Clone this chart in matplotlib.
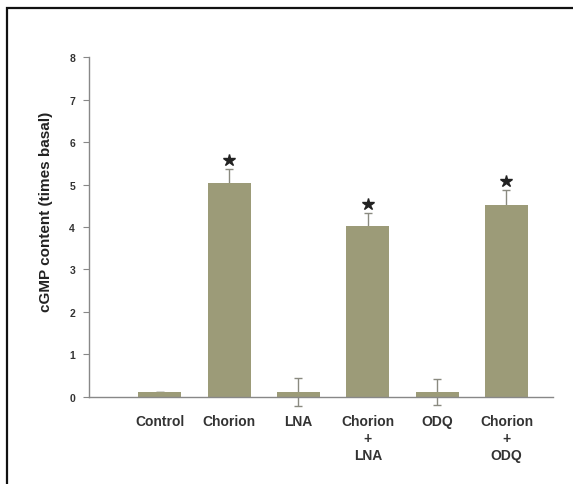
import matplotlib
matplotlib.use('Agg')
import matplotlib.pyplot as plt
import numpy as np
from matplotlib.patches import Rectangle

# data
groups = ['Control', 'Chorion', 'LNA', 'Chorion\n+\nLNA', 'ODQ', 'Chorion\n+\nODQ']
means = [0.12, 5.03, 0.12, 4.03, 0.12, 4.52]
errs = [0.0, 0.33, 0.33, 0.3, 0.3, 0.35]
signif = [False, True, False, True, False, True]
yticks = [0, 1, 2, 3, 4, 5, 6, 7, 8]

plt.rcParams['font.family'] = ['Liberation Sans', 'DejaVu Sans']

fig = plt.figure(figsize=(5.73, 4.85), dpi=100)
ax = fig.add_axes([0.1553, 0.1794, 0.8097, 0.701])

x = np.arange(len(groups))
ax.bar(x, means, width=0.62, color='#9c9b78', edgecolor='none', zorder=2)
ax.errorbar(x, means, yerr=errs, fmt='none', ecolor='#8a8a80',
            elinewidth=1.0, capsize=3, capthick=1.0, zorder=1, clip_on=False)

''' significance stars '''
for xi, m, e, s in zip(x, means, errs, signif):
    if s:
        ax.plot(xi, m + e + 0.22, marker='*', markersize=9, color='#222222',
                linestyle='none', zorder=4)

ax.set_xlim(-1.02, 5.67)
ax.set_ylim(0, 8)
ax.set_yticks(yticks)
ax.set_yticklabels([str(t) for t in yticks], fontsize=7.5, fontweight='bold', color='#333333')
ax.set_xticks(x)
ax.set_xticklabels(groups, fontsize=10, fontweight='bold', color='#333333', linespacing=1.3)
ax.tick_params(axis='x', length=0, pad=12)
ax.tick_params(axis='y', direction='out', length=4, width=0.8, color='#888888', pad=6)

for sp in ['top', 'right']:
    ax.spines[sp].set_visible(False)
for sp in ['left', 'bottom']:
    ax.spines[sp].set_color('#888888')
    ax.spines[sp].set_linewidth(1.0)
ax.spines['bottom'].set_zorder(5)

ax.set_ylabel('cGMP content (times basal)', fontsize=11, fontweight='bold', color='#222222')
ax.yaxis.set_label_coords(-0.078, 0.547)

''' outer frame '''
fig.patches.append(Rectangle((7 / 573, -0.1), 1.2, 1.1 - 9 / 485, transform=fig.transFigure,
                             fill=False, edgecolor='#111111', linewidth=1.6))

plt.savefig('out.png', dpi=100)
